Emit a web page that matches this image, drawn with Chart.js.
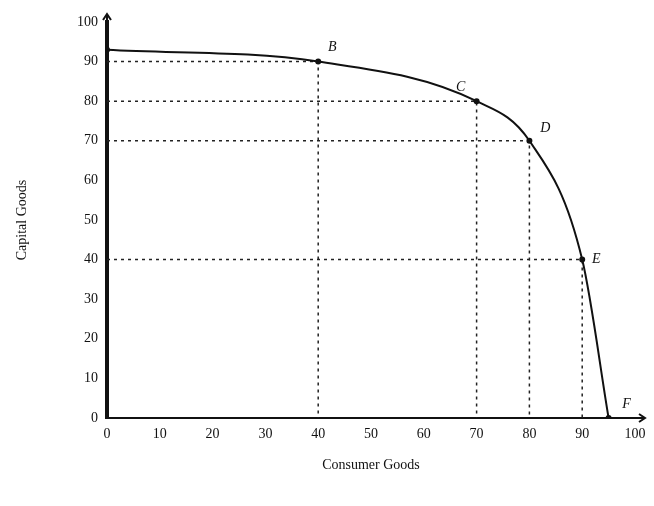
<!DOCTYPE html>
<html>
<head>
<meta charset="utf-8">
<script src="https://cdn.jsdelivr.net/npm/chart.js@4"></script>
<style>
  html, body { margin: 0; padding: 0; background: #fff; }
  #wrap { width: 654px; height: 506px; }
</style>
</head>
<body>
<div id="wrap"><canvas id="ppf"></canvas></div>
<script>
// production possibilities
const pointNames = ['A', 'B', 'C', 'D', 'E', 'F'];
const consumerGoods = [0, 40, 70, 80, 90, 95];
const capitalGoods = [93, 90, 80, 70, 40, 0];
const tickValues = [0, 10, 20, 30, 40, 50, 60, 70, 80, 90, 100];

const curve = consumerGoods.map((x, i) => ({ x, y: capitalGoods[i] }));

// dashed guides from B..E back to both axes
const guides = [1, 2, 3, 4].map(i => ({
    data: [
        { x: 0, y: capitalGoods[i] },
        { x: consumerGoods[i], y: capitalGoods[i] },
        { x: consumerGoods[i], y: 0 }
    ],
    borderColor: '#222',
    borderWidth: 1.5,
    borderDash: [3, 4],
    pointRadius: 0,
    showLine: true,
    tension: 0
}));

// letters beside the points, arrows on the axes
const annotate = {
    id: 'annotate',
    afterDatasetsDraw(chart) {
        const ctx = chart.ctx;
        const xs = chart.scales.x, ys = chart.scales.y;
        const off = [[-8, -22], [14, -14], [-16, -14], [16, -12], [14, 0], [18, -14]];
        ctx.save();
        ctx.fillStyle = '#111';
        ctx.font = 'italic 14px "Liberation Serif"';
        ctx.textAlign = 'center';
        ctx.textBaseline = 'middle';
        pointNames.forEach((n, i) => {
            if (i === 0) return;
            const px = xs.getPixelForValue(consumerGoods[i]) + off[i][0];
            const py = ys.getPixelForValue(capitalGoods[i]) + off[i][1];
            ctx.fillText(n, px, py);
        });
        // arrow heads
        const x0 = xs.getPixelForValue(0), y0 = ys.getPixelForValue(0);
        const xEnd = xs.right + 10, yTop = ys.top - 8;
        ctx.strokeStyle = '#111';
        ctx.lineWidth = 2;
        ctx.beginPath();
        ctx.moveTo(xs.right, y0); ctx.lineTo(xEnd, y0);
        ctx.moveTo(xEnd - 6, y0 - 4); ctx.lineTo(xEnd, y0); ctx.lineTo(xEnd - 6, y0 + 4);
        ctx.moveTo(x0, ys.top); ctx.lineTo(x0, yTop);
        ctx.moveTo(x0 - 4, yTop + 6); ctx.lineTo(x0, yTop); ctx.lineTo(x0 + 4, yTop + 6);
        ctx.stroke();
        ctx.restore();
    }
};

new Chart(document.getElementById('ppf'), {
    type: 'scatter',
    data: {
        datasets: [
            {
                data: curve,
                borderColor: '#111',
                borderWidth: 2,
                pointRadius: 2,
                pointBackgroundColor: '#111',
                showLine: true,
                cubicInterpolationMode: 'monotone'
            },
            ...guides
        ]
    },
    options: {
        responsive: true,
        maintainAspectRatio: false,
        animation: false,
        layout: { padding: { top: 22, right: 19, left: 0, bottom: 0 } },
        plugins: {
            legend: { display: false },
            tooltip: { enabled: false }
        },
        scales: {
            x: {
                type: 'linear',
                min: 0,
                max: 100,
                afterFit: s => { s.height = 88; },
                afterBuildTicks: s => { s.ticks = tickValues.map(v => ({ value: v })); },
                grid: { display: false, drawTicks: true, tickLength: 5, color: '#111' },
                border: { color: '#111', width: 2 },
                ticks: { color: '#111', font: { family: 'Liberation Serif', size: 14 }, padding: 3 },
                title: {
                    display: true,
                    text: 'Consumer Goods',
                    color: '#111',
                    font: { family: 'Liberation Serif', size: 14 },
                    padding: { top: 4, bottom: 32 }
                }
            },
            y: {
                type: 'linear',
                min: 0,
                max: 100,
                afterFit: s => { s.width = 107; },
                afterBuildTicks: s => { s.ticks = tickValues.map(v => ({ value: v })); },
                grid: { display: false, tickLength: 5, color: '#111' },
                border: { color: '#111', width: 4 },
                ticks: { color: '#111', font: { family: 'Liberation Serif', size: 14 }, padding: 4 },
                title: {
                    display: true,
                    text: 'Capital Goods',
                    color: '#111',
                    font: { family: 'Liberation Serif', size: 14 },
                    padding: { top: 14, bottom: 4 }
                }
            }
        }
    },
    plugins: [annotate]
});
</script>
</body>
</html>
